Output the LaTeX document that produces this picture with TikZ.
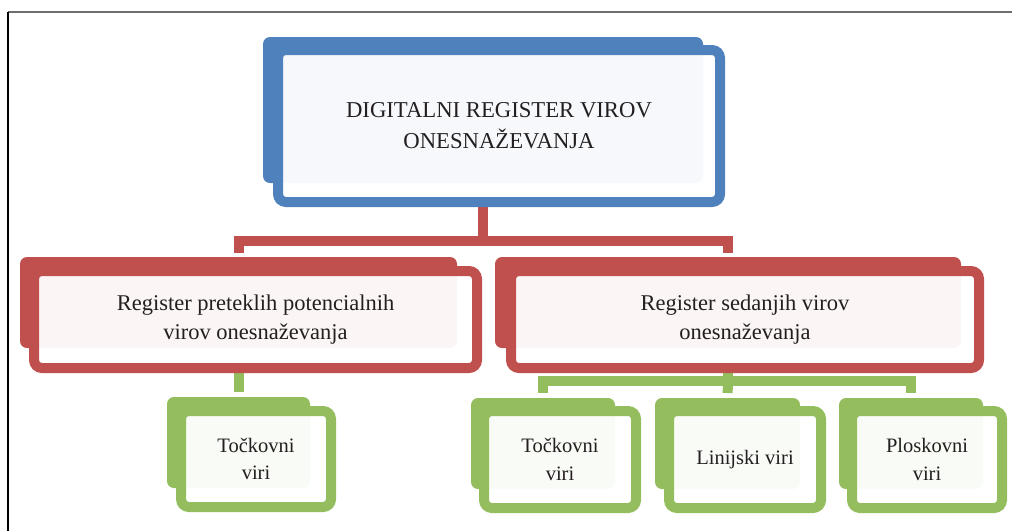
\documentclass[tikz,border=0pt]{standalone}
\usepackage{fontspec}
\setmainfont{Liberation Serif}
\definecolor{accblue}{RGB}{79,129,189}
\definecolor{accred}{RGB}{192,80,77}
\definecolor{accgreen}{RGB}{148,189,94}
\definecolor{inktext}{RGB}{35,31,32}
\definecolor{framegray}{RGB}{110,110,110}
\begin{document}
\begin{tikzpicture}[x=1pt,y=-1pt,
  backbox/.style={rectangle, rounded corners=7pt, inner sep=0pt, outer sep=0pt, fill=#1},
  frontbox/.style={rectangle, draw=#1, line width=10pt, rounded corners=8pt,
    fill=white, fill opacity=0.95, text opacity=1, inner sep=0pt, outer sep=0pt,
    align=center, text=inktext},
  toptext/.style={font=\fontsize{22.7}{31}\selectfont},
  midtext/.style={font=\fontsize{22.5}{29.3}\selectfont},
  leaftext/.style={font=\fontsize{20.5}{27.3}\selectfont},
  link/.style={draw=#1, line width=10pt},
]
\useasboundingbox (0,0) rectangle (1012,531);

% frame lines
\draw[framegray, line width=1.2pt] (8,12) -- (1012,12);
\draw[black, line width=1.2pt] (8,12) -- (8,531);

% --- back plates ---
% level 0
\node[backbox=accblue, minimum width=440pt, minimum height=146pt] (topback) at (483,110) {};
% level 1
\node[backbox=accred, minimum width=437pt, minimum height=91pt] (pastback) at (238.5,302.5) {};
\node[backbox=accred, minimum width=466pt, minimum height=91pt] (nowback) at (728,302.5) {};
% level 2
\node[backbox=accgreen, minimum width=143pt, minimum height=91pt] (pastptback) at (238.5,442.5) {};
\node[backbox=accgreen, minimum width=144pt, minimum height=91pt] (ptback) at (543,443.5) {};
\node[backbox=accgreen, minimum width=145pt, minimum height=91pt] (lineback) at (727.5,443.5) {};
\node[backbox=accgreen, minimum width=144pt, minimum height=91pt] (areaback) at (911,443.5) {};

% connectors (drawn under the front frames)
\coordinate (busA) at (0,241);
\coordinate (busB) at (0,380.5);
\draw[link=accred, shorten >=4pt] (topback |- 0,200) -- (topback |- busA) -| (pastback.north);
\draw[link=accred, shorten >=4pt] (topback |- busA) -| (nowback.north);
\draw[link=accgreen, shorten >=5pt] (pastback.center |- 0,365) -- (pastptback.north);
\draw[link=accgreen] (nowback.center |- 0,365) -- (nowback |- busB);
\draw[link=accgreen, shorten >=5pt] (nowback |- busB) -| (ptback.north);
\draw[link=accgreen, shorten >=5pt] (nowback |- busB) -| (areaback.north);
\draw[link=accgreen, shorten >=5pt] (nowback |- busB) -- (lineback.north);

% --- front frames with the labels ---
\node[frontbox=accblue, toptext, minimum width=442pt, minimum height=152pt] (topfront) at (499,126)
  {DIGITALNI REGISTER VIROV\\ONESNAŽEVANJA};
\node[frontbox=accred, midtext, minimum width=443pt, minimum height=97pt] (pastfront) at (255.5,319.5)
  {Register preteklih potencialnih\\virov onesnaževanja};
\node[frontbox=accred, midtext, minimum width=468pt, minimum height=97pt] (nowfront) at (745,319.5)
  {Register sedanjih virov\\onesnaževanja};
\node[frontbox=accgreen, leaftext, minimum width=150pt, minimum height=96pt] (pastptfront) at (256,459)
  {Točkovni\\viri};
\node[frontbox=accgreen, leaftext, minimum width=152pt, minimum height=97pt] (ptfront) at (560,459.5)
  {Točkovni\\viri};
\node[frontbox=accgreen, leaftext, minimum width=152pt, minimum height=97pt] (linefront) at (745,459.5)
  {Linijski viri};
\node[frontbox=accgreen, leaftext, minimum width=150pt, minimum height=97pt] (areafront) at (927,459.5)
  {Ploskovni\\viri};
\end{tikzpicture}
\end{document}
